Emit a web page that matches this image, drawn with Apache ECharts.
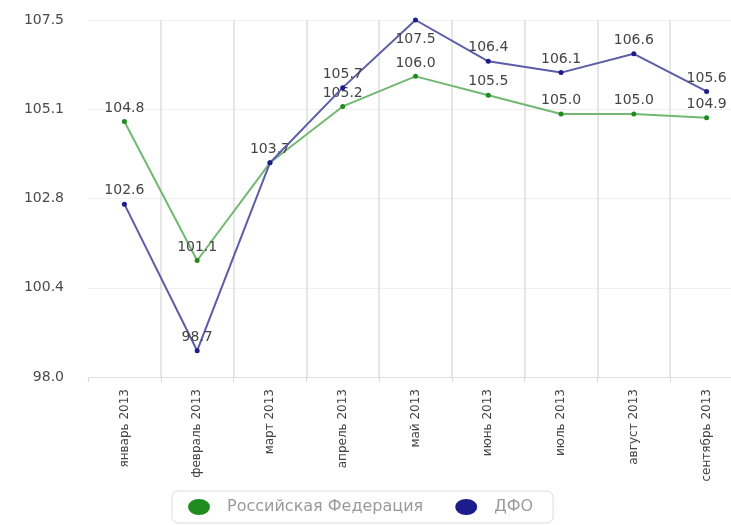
<!DOCTYPE html>
<html>
<head>
<meta charset="utf-8">
<script src="https://cdn.jsdelivr.net/npm/echarts@6/dist/echarts.min.js"></script>
<style>
  html, body { margin: 0; padding: 0; background: #fff; overflow: hidden; }
  #main_chart { width: 731px; height: 525px; }
</style>
</head>
<body>
<div id="main_chart"></div>
<script>
var months = ['январь 2013', 'февраль 2013', 'март 2013', 'апрель 2013', 'май 2013',
    'июнь 2013', 'июль 2013', 'август 2013', 'сентябрь 2013'];
var rfValues = [104.8, 101.1, 103.7, 105.2, 106.0, 105.5, 105.0, 105.0, 104.9];
var dfoValues = [102.6, 98.7, 103.7, 105.7, 107.5, 106.4, 106.1, 106.6, 105.6];
var yTicks = [98, 100.375, 102.75, 105.125, 107.5];

var chart = echarts.init(document.getElementById('main_chart'));

function valueLabel(p) {
    return Number(p.value).toFixed(1);
}

// top point gets its label underneath; where both series meet only one label is shown
var dfoData = dfoValues.map(function (v, i) {
    if (v === 107.5) {
        return { value: v, label: { position: 'bottom', distance: 10 } };
    }
    if (v === rfValues[i]) {
        return { value: v, label: { show: false } };
    }
    return v;
});

chart.setOption({
    animation: false,
    grid: {
        left: 88,
        top: 20,
        width: 655,
        bottom: 148,
        containLabel: false,
        outerBoundsMode: 'none'
    },
    legend: {
        bottom: 2,
        left: 172,
        padding: [8, 20, 8, 16],
        borderColor: '#dddddd',
        borderWidth: 1,
        borderRadius: 6,
        itemWidth: 22,
        itemHeight: 17,
        itemGap: 32,
        icon: 'path://M0,8a11,8 0 1,0 22,0a11,8 0 1,0 -22,0',
        textStyle: {
            fontFamily: 'DejaVu Sans',
            fontSize: 16,
            color: '#9a9a9a',
            padding: [0, 0, 0, 12]
        },
        data: ['Российская Федерация', 'ДФО']
    },
    xAxis: {
        type: 'category',
        data: months,
        boundaryGap: true,
        axisLine: { lineStyle: { color: '#e0e0e0' } },
        axisTick: { show: true, length: 5, lineStyle: { color: '#d8d8d8' } },
        axisLabel: {
            rotate: 90,
            margin: 12,
            fontFamily: 'DejaVu Sans',
            fontSize: 12,
            color: '#444444'
        },
        splitLine: {
            show: true,
            showMinLine: false,
            lineStyle: { color: '#dedede', width: 1.5 }
        }
    },
    yAxis: {
        type: 'value',
        min: 98,
        max: 107.5,
        axisLine: { show: false },
        axisTick: { show: false, customValues: yTicks },
        axisLabel: {
            customValues: yTicks,
            margin: 24,
            fontFamily: 'DejaVu Sans',
            fontSize: 14,
            color: '#4a4a4a',
            formatter: function (v) { return v.toFixed(1); }
        },
        splitLine: { show: true, lineStyle: { color: '#f0f0f0' } }
    },
    series: [{
        name: 'Российская Федерация',
        type: 'line',
        data: rfValues,
        symbol: 'circle',
        symbolSize: 5,
        itemStyle: { color: '#1e8c1e' },
        lineStyle: { color: '#72b872', width: 2 },
        label: {
            show: true,
            position: 'top',
            distance: 4,
            fontFamily: 'DejaVu Sans',
            fontSize: 14,
            color: '#444444',
            formatter: valueLabel
        },
        z: 2
    }, {
        name: 'ДФО',
        type: 'line',
        data: dfoData,
        symbol: 'circle',
        symbolSize: 5,
        itemStyle: { color: '#1c1c8c' },
        lineStyle: { color: '#5c5ca8', width: 2 },
        label: {
            show: true,
            position: 'top',
            distance: 4,
            fontFamily: 'DejaVu Sans',
            fontSize: 14,
            color: '#444444',
            formatter: valueLabel
        },
        z: 3
    }]
});
</script>
</body>
</html>
